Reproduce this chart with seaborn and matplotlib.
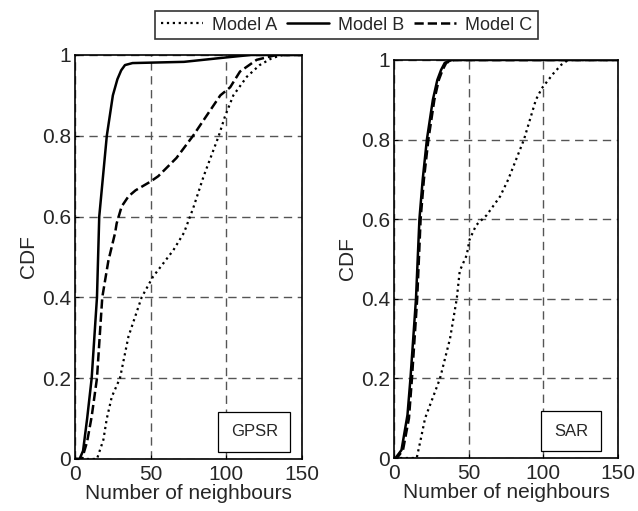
import pandas as pd
import matplotlib
matplotlib.use('Agg')
import matplotlib.pyplot as plt
import seaborn as sns

sns.set_style('ticks')
plt.rcParams['font.family'] = ['Liberation Sans', 'DejaVu Sans']

# GPSR curves (number of neighbours, CDF)
gpsr_a_x = [0, 14.5, 18.7, 21, 24.3, 29.7, 35.3, 44, 51.5, 59.5, 65, 72, 78, 85, 95, 99, 104.6, 113.5, 122, 130, 137, 150]
gpsr_a_y = [0, 0, 0.047, 0.1, 0.154, 0.2, 0.303, 0.4, 0.451, 0.49, 0.517, 0.56, 0.62, 0.7, 0.8, 0.847, 0.9, 0.946, 0.975, 0.992, 1.0, 1.0]
gpsr_b_x = [0, 3, 5.3, 8, 11, 14.5, 16, 18.5, 21, 25, 28, 30.5, 33, 38, 72, 100, 116, 150]
gpsr_b_y = [0, 0, 0.02, 0.1, 0.2, 0.4, 0.6, 0.7, 0.8, 0.9, 0.94, 0.962, 0.975, 0.98, 0.983, 0.994, 1.0, 1.0]
gpsr_c_x = [0, 4.6, 8, 11, 14.5, 18, 22, 26.5, 27.5, 30.8, 35.3, 40, 49.6, 55, 67, 78, 96, 102.5, 109, 120, 133, 150]
gpsr_c_y = [0, 0, 0.043, 0.105, 0.2, 0.4, 0.49, 0.56, 0.583, 0.625, 0.65, 0.665, 0.686, 0.7, 0.745, 0.8, 0.9, 0.92, 0.959, 0.988, 1.0, 1.0]

# SAR curves
sar_a_x = [0, 15.2, 18, 20.8, 30.8, 37.5, 42, 44, 48.7, 50.5, 55, 62, 71, 76.5, 87, 95, 99, 106.7, 112, 116.6, 150]
sar_a_y = [0, 0, 0.049, 0.1, 0.2, 0.3, 0.4, 0.47, 0.51, 0.548, 0.585, 0.61, 0.657, 0.7, 0.8, 0.9, 0.929, 0.966, 0.988, 1.0, 1.0]
sar_b_x = [0, 1, 5, 9, 11, 14.7, 17, 19.2, 22, 26, 29, 31.5, 34, 38.7, 150]
sar_b_y = [0, 0, 0.02, 0.108, 0.2, 0.4, 0.6, 0.7, 0.8, 0.9, 0.95, 0.975, 0.993, 1.0, 1.0]
sar_c_x = [0, 2, 6, 10, 12, 15.5, 17.8, 20, 23, 27, 30, 32.5, 35, 40, 150]
sar_c_y = [0, 0, 0.02, 0.1, 0.2, 0.4, 0.6, 0.7, 0.8, 0.9, 0.95, 0.975, 0.993, 1.0, 1.0]

models = ['Model A', 'Model B', 'Model C']
styles = {'Model A': ':', 'Model B': '-', 'Model C': '--'}
widths = {'Model A': 1.6, 'Model B': 1.8, 'Model C': 1.8}

panels = [
    ('GPSR', [(gpsr_a_x, gpsr_a_y), (gpsr_b_x, gpsr_b_y), (gpsr_c_x, gpsr_c_y)]),
    ('SAR', [(sar_a_x, sar_a_y), (sar_b_x, sar_b_y), (sar_c_x, sar_c_y)]),
]

fig = plt.figure(figsize=(6.38, 5.11), dpi=100)
ax1 = fig.add_axes([0.1176, 0.1018, 0.3558, 0.7906])
ax2 = fig.add_axes([0.6176, 0.1037, 0.3511, 0.7789])

for ax, (name, curves) in zip([ax1, ax2], panels):
    for m, (xs, ys) in zip(models, curves):
        sns.lineplot(x=xs, y=ys, ax=ax, color='black', linestyle=styles[m],
                     linewidth=widths[m], label=m, sort=False)
    ax.set_xlim(0, 150)
    ax.set_ylim(0, 1)
    ax.set_xticks([0, 50, 100, 150])
    ax.set_yticks([0, 0.2, 0.4, 0.6, 0.8, 1])
    ax.set_yticklabels(['0', '0.2', '0.4', '0.6', '0.8', '1'])
    ax.grid(True, color='#555555', linestyle=(0, (6, 4)), linewidth=1)
    ax.tick_params(direction='in', length=3, labelsize=15, color='black')
    ax.tick_params(axis='x', pad=4)
    ax.tick_params(axis='y', pad=3)
    for s in ax.spines.values():
        s.set_visible(True)
        s.set_color('black')
        s.set_linewidth(1.2)
    ax.set_xlabel('Number of neighbours', fontsize=15, labelpad=0)
    ax.set_ylabel('CDF', fontsize=15, labelpad=3)
    ax.get_legend().remove()
    ax.text(0.79, 0.067, name, transform=ax.transAxes, ha='center', va='center', fontsize=12,
            bbox=dict(boxstyle='square,pad=0.75', facecolor='white', edgecolor='black', linewidth=0.9))

handles, labels = ax1.get_legend_handles_labels()
leg = fig.legend(handles, labels, loc='center', bbox_to_anchor=(0.543, 0.951), ncol=3,
                 fontsize=13, frameon=True, fancybox=False, handlelength=2.33,
                 borderpad=0.3, columnspacing=0.55, handletextpad=0.5, borderaxespad=0)
leg.get_frame().set_edgecolor('black')
leg.get_frame().set_linewidth(1.2)

fig.savefig('out.png', dpi=100)
